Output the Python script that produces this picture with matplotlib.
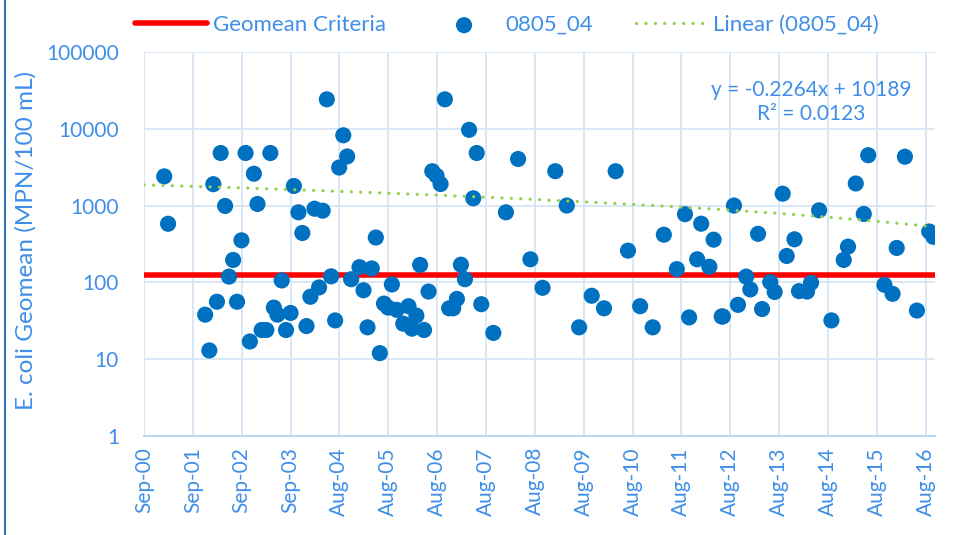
import pandas as pd
import matplotlib.pyplot as plt
import matplotlib.dates as mdates
from matplotlib.lines import Line2D

plt.rcParams['font.family'] = ['Lato', 'DejaVu Sans']

# sample dates and E. coli geomean values (MPN/100 mL)
dates = ['2001-01-30', '2001-02-28', '2001-12-02', '2002-01-02', '2002-02-01', '2002-02-28',
         '2002-03-28', '2002-04-30', '2002-05-29', '2002-06-29', '2002-07-28', '2002-08-30',
         '2002-09-30', '2002-11-01', '2002-12-01', '2002-12-28', '2003-01-28', '2003-03-04',
         '2003-04-03', '2003-04-29', '2003-05-26', '2003-06-27', '2003-07-29', '2003-09-01',
         '2003-09-26', '2003-10-30', '2003-11-28', '2003-12-29', '2004-01-27', '2004-02-27',
         '2004-04-01', '2004-04-28', '2004-05-29', '2004-06-30', '2004-07-30', '2004-08-29',
         '2004-09-29', '2004-10-28', '2004-11-27', '2005-01-28', '2005-02-27', '2005-03-29',
         '2005-04-30', '2005-05-30', '2005-06-29', '2005-07-30', '2005-08-30', '2005-09-27',
         '2005-11-02', '2005-12-21', '2006-01-29', '2006-02-24', '2006-03-29', '2006-04-26',
         '2006-05-25', '2006-06-28', '2006-07-26', '2006-08-27', '2006-09-26', '2006-10-28',
         '2006-11-29', '2006-12-29', '2007-01-26', '2007-02-25', '2007-03-27', '2007-04-27',
         '2007-05-28', '2007-06-23', '2007-07-27', '2007-10-25', '2008-01-27', '2008-04-27',
         '2008-07-28', '2008-10-27', '2009-01-30', '2009-04-26', '2009-07-27', '2009-10-29',
         '2010-01-29', '2010-04-26', '2010-07-27', '2010-10-26', '2011-01-28', '2011-04-21',
         '2011-07-27', '2011-09-26', '2011-10-27', '2011-12-26', '2012-01-25', '2012-03-26',
         '2012-04-27', '2012-06-26', '2012-07-05', '2012-09-26', '2012-10-26', '2012-12-26',
         '2013-01-26', '2013-03-25', '2013-04-24', '2013-06-24', '2013-07-27', '2013-09-25',
         '2013-10-25', '2013-12-22', '2014-01-25', '2014-03-26', '2014-04-25', '2014-06-24',
         '2014-09-24', '2014-12-25', '2015-01-26', '2015-03-25', '2015-05-24', '2015-06-26',
         '2015-10-25', '2015-12-25', '2016-01-25', '2016-03-26', '2016-06-24', '2016-09-24',
         '2016-10-25']
ecoli = [2400, 580, 38, 13, 1900, 56, 4840, 990, 119, 196, 56, 353,
         4840, 17, 2600, 1050, 24, 24, 4840, 47, 38, 106, 24, 40,
         1800, 818, 440, 27, 65, 911, 86, 859, 24200, 120, 32, 3130,
         8230, 4360, 110, 158, 79, 26, 152, 384, 12, 53, 47, 94,
         44, 29, 49, 25, 37, 169, 24, 76, 2805, 2444, 1910, 24200,
         46, 46, 61, 170, 110, 9700, 1245, 4840, 52, 22, 818, 4045,
         200, 85, 2805, 1002, 26, 67, 46, 2805, 259, 49, 26, 418,
         149, 773, 35, 200, 581, 160, 360, 36, 36, 1002, 51, 119,
         81, 429, 45, 101, 75, 1429, 221, 364, 77, 76, 99, 868,
         32, 196, 292, 1940, 778, 4530, 93, 71, 281, 4330, 43, 460,
         392]

criteria = 126
criteria_dates = ['2000-09-01', '2016-11-06']
trend_slope = -0.2264
trend_intercept = 10189
trend_dates = ['2000-09-01', '2016-10-25']
tick_labels = ['Sep-00', 'Sep-01', 'Sep-02', 'Sep-03', 'Aug-04', 'Aug-05', 'Aug-06', 'Aug-07',
               'Aug-08', 'Aug-09', 'Aug-10', 'Aug-11', 'Aug-12', 'Aug-13', 'Aug-14', 'Aug-15', 'Aug-16']

txt = '#3F8FE8'
dot = '#0070C0'
grid = '#D6E5F7'

x = pd.to_datetime(dates)
fig = plt.figure(figsize=(9.61, 5.35), dpi=100)
ax = fig.add_axes([144/961, 99/535, 791/961, 384/535])

# criteria line
cd = pd.to_datetime(criteria_dates)
ax.plot(cd, [criteria, criteria], color='#FF0000', lw=4, solid_capstyle='round',
        label='Geomean Criteria', zorder=3)
ax.scatter(x, ecoli, s=135, color=dot, edgecolors='none', label='0805_04', zorder=4)

# excel linear trendline (x = excel serial date)
tx = pd.date_range(trend_dates[0], trend_dates[1], periods=200)
serial = mdates.date2num(tx) + 25569
ax.plot(tx, trend_slope * serial + trend_intercept, color='#92D050', lw=2.3,
        dashes=(0.05, 2.9), dash_capstyle='round', label='Linear (0805_04)', zorder=5)

ax.set_yscale('log')
ax.set_ylim(1, 100000)
ax.set_xlim(pd.Timestamp('2000-09-01'), pd.Timestamp('2016-11-06'))
ticks = pd.date_range('2000-09-01', periods=len(tick_labels), freq='365D')
ax.set_xticks(ticks)
ax.set_xticklabels(tick_labels, rotation=90)
ax.set_yticks([1, 10, 100, 1000, 10000, 100000])
ax.set_yticklabels(['1', '10', '100', '1000', '10000', '100000'])
ax.minorticks_off()
ax.tick_params(length=0, labelsize=15, colors=txt)
ax.tick_params(axis='y', pad=18)
ax.tick_params(axis='x', pad=8)
ax.grid(True, color=grid, lw=1.3)
ax.set_axisbelow(True)
for s in ['top', 'right', 'left']:
    ax.spines[s].set_visible(False)
ax.spines['bottom'].set_color('#BDD7EE')
ax.spines['bottom'].set_linewidth(1.5)

ax.text(0.843, 0.87, 'y = -0.2264x + 10189\nR² = 0.0123', transform=ax.transAxes,
        ha='center', va='center', fontsize=15, color=txt, linespacing=1.25)

fig.text(26/961, 294/535, 'E. coli Geomean (MPN/100 mL)', rotation=90, ha='center',
         va='center', fontsize=17.5, color=txt)

fig.legend(loc='center', bbox_to_anchor=(507/961, 510/535), ncol=3, frameon=False,
           fontsize=16, labelcolor=txt, handlelength=3.25, handletextpad=0.25,
           columnspacing=1.9, markerscale=1)

fig.add_artist(Line2D([5/961, 5/961], [0, 1], color='#2E75B6', lw=1.5))

fig.savefig('out.png', dpi=100)
